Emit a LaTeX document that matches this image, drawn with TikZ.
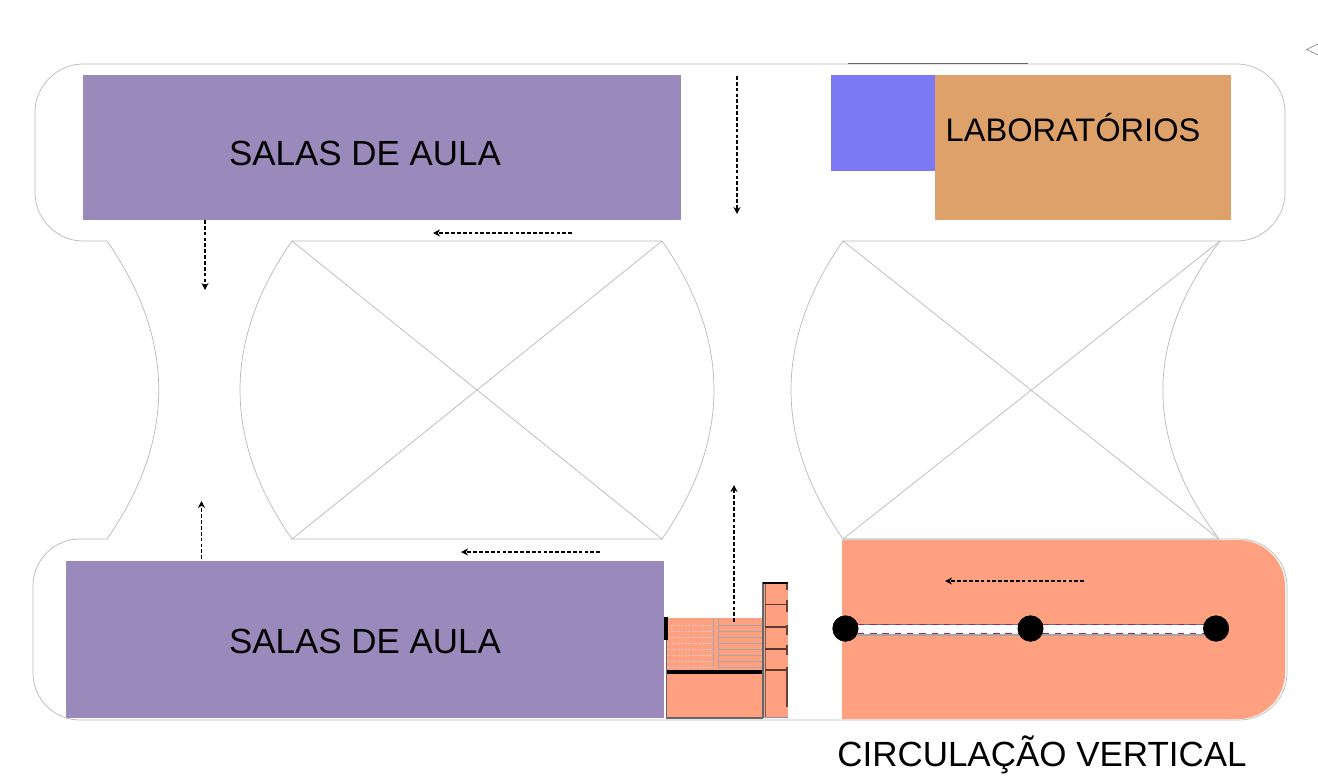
\documentclass[tikz,border=0pt]{standalone}
\usepackage{fontspec}
\setmainfont{Liberation Sans}
\usetikzlibrary{arrows.meta}
\def\leftpatio{(292,241) .. controls (222.7,340) and (222.7,440) .. (292,539) -- (662,539)
  .. controls (731.3,440) and (731.3,340) .. (662,241) -- cycle}
\def\rightpatio{(843,241) .. controls (773.7,340) and (773.7,440) .. (843,539) -- (1219,539)
  .. controls (1144,440) and (1144,340) .. (1220,241) -- cycle}
\def\topband{(107,241) -- (83,241) .. controls (57,241) and (35,219) .. (35,193) -- (35,112)
  .. controls (35,86) and (57,64) .. (83,64) -- (1237,64) .. controls (1263,64) and (1285,86) .. (1285,112)
  -- (1285,193) .. controls (1285,219) and (1263,241) .. (1237,241) -- (1220,241)}
\def\bottomband{(107,539) -- (80,539) .. controls (54,539) and (33,560) .. (33,586) -- (33,673)
  .. controls (33,699) and (54,720) .. (80,720) -- (1239,720) .. controls (1265,720) and (1287,699) .. (1287,673)
  -- (1287,586) .. controls (1287,560) and (1265,539) .. (1239,539) -- (843,539)}
\def\circulation{(842,540) -- (1238,540) .. controls (1264,540) and (1285,561) .. (1285,586) -- (1285,673)
  .. controls (1285,698) and (1264,719) .. (1238,719) -- (842,719) -- cycle}
\colorlet{outline edge}{black!28}
\definecolor{classroom}{RGB}{153,138,187}
\definecolor{lab}{RGB}{221,161,105}
\definecolor{labblue}{RGB}{125,121,245}
\definecolor{stair}{RGB}{255,160,128}
\definecolor{railred}{RGB}{170,40,80}
\tikzset{outline/.style={draw=outline edge, line width=0.6pt},
    roomlabel/.style={inner sep=0pt, font=\fontsize{29.8pt}{29.8pt}\selectfont},
    flow/.style={draw=black, line width=1.05pt, dash pattern=on 3.2pt off 1.8pt, -{Stealth[length=6pt,width=6pt]}},
    pillar/.style={circle, fill=black, minimum size=0.78cm, inner sep=0pt},
    tread/.style={draw=black!35, line width=0.4pt}}

\begin{document}
\begin{tikzpicture}[x=0.03cm,y=-0.03cm]
  \useasboundingbox (0,0) rectangle (1318,778);
  % rooms
  \fill[classroom] (83,75) rectangle (681,220);
  \fill[classroom] (66,561) rectangle (664,718);
  \fill[labblue] (831,75) rectangle (935,171);
  \fill[lab] (935,75) rectangle (1231,220);
  \fill[stair] \circulation;
  % outlines
  \draw[outline] \topband;
  \draw[outline] \bottomband;
  \draw[outline] (107,241) .. controls (176,340) and (176,440) .. (107,539);
  \draw[outline] \leftpatio;
  \draw[outline] \rightpatio;
  \draw[outline] (292,241) -- (662,539) (662,241) -- (292,539);
  \draw[outline] (843,241) -- (1219,539) (1220,241) -- (843,539);
  \draw[black!60, line width=0.7pt] (848,63.7) -- (1028,63.7);
  \draw[black!45, line width=0.6pt] (1318,44) -- (1306.5,49.5) -- (1318,55);
  % stairs
  \fill[stair] (667,618) rectangle (763,718);
  \foreach \y in {625,631,637,643,649,655,661,667}
    \draw[tread] (718,\y) -- (763,\y);
  \foreach \y in {625,631,637,643,649,655,661,667}
    \draw[tread, black!20, dash pattern=on 2pt off 1pt] (667,\y) -- (713,\y);
  \draw[tread] (713,618) -- (713,667) (718,618) -- (718,667);
  \draw[black!60, line width=0.9pt] (666.5,640) -- (666.5,718) -- (763,718);
  \fill[black] (664,617) rectangle (668,640);
  \draw[black, line width=2.6pt] (667,672) -- (762,672);
  % stair column
  \fill[stair] (763,582) rectangle (788,718);
  \draw[black!60, line width=0.9pt] (763,582) -- (763,718) (765.5,582) -- (765.5,718);
  \draw[black, line width=2.4pt] (763,583) -- (788,583);
  \foreach \y in {604.7,627,649,670}
    \draw[black!65!stair, line width=1.1pt] (765,\y) -- (788,\y);
  \draw[black!60!stair, line width=1.4pt] (787.3,584) -- (787.3,590) (787.3,600) -- (787.3,612)
    (787.3,625) -- (787.3,635) (787.3,645) -- (787.3,655) (787.3,667) -- (787.3,707);
  \draw[classroom, line width=1.2pt] (765,717.3) -- (788,717.3);
  % columns and the walkway between them
  \node[pillar] (pillar a) at (845.5,628.5) {};
  \node[pillar] (pillar b) at (1030.5,628.5) {};
  \node[pillar] (pillar c) at (1216,628.5) {};
  \fill[white] (pillar a.center |- 0,624) rectangle (pillar c.center |- 0,634);
  \draw[black!55, line width=0.5pt] (pillar a.center |- 0,624) -- (pillar c.center |- 0,624);
  \draw[railred, line width=0.6pt, dash pattern=on 5.5pt off 5pt] (pillar a.center |- 0,624.3) -- (pillar c.center |- 0,624.3);
  \draw[black!35, line width=1.6pt] (pillar a.center |- 0,635) -- (pillar c.center |- 0,635);
  \draw[railred, line width=0.5pt, dash pattern=on 5.5pt off 5pt] (pillar a.center |- 0,633.4) -- (pillar c.center |- 0,633.4);
  \node[pillar] at (pillar a) {};
  \node[pillar] at (pillar b) {};
  \node[pillar] at (pillar c) {};
  % flow arrows
  \coordinate (road top) at (737,76);
  \coordinate (road mid) at (737,214);
  \coordinate (hall top a) at (572,233);
  \coordinate (hall top b) at (433,233);
  \coordinate (link top a) at (205,220);
  \coordinate (link top b) at (205,290);
  \coordinate (link low a) at (201.5,559);
  \coordinate (link low b) at (201.5,501);
  \coordinate (hall low a) at (600,552);
  \coordinate (hall low b) at (461,552);
  \coordinate (stair a) at (734,622);
  \coordinate (stair b) at (734,485);
  \coordinate (ramp a) at (1084,581);
  \coordinate (ramp b) at (945,581);
  \draw[flow] (road top) -- (road mid);
  \draw[flow] (hall top a) -- (hall top b);
  \draw[flow] (link top a) -- (link top b);
  \draw[flow] (link low a) -- (link low b);
  \draw[flow] (hall low a) -- (hall low b);
  \draw[flow] (stair a) -- (stair b);
  \draw[flow] (ramp a) -- (ramp b);
  % labels
  \node[roomlabel] (salas top) at (365,153.5) {SALAS DE AULA};
  \node[roomlabel] (salas low) at (365,641.5) {SALAS DE AULA};
  \node[roomlabel, font=\fontsize{27.8pt}{27.8pt}\selectfont] (labs) at (1073,128) {LABORATÓRIOS};
  \node[roomlabel, font=\fontsize{29.85pt}{29.85pt}\selectfont] (vertical) at (1042,755) {CIRCULAÇÃO VERTICAL};
\end{tikzpicture}
\end{document}
